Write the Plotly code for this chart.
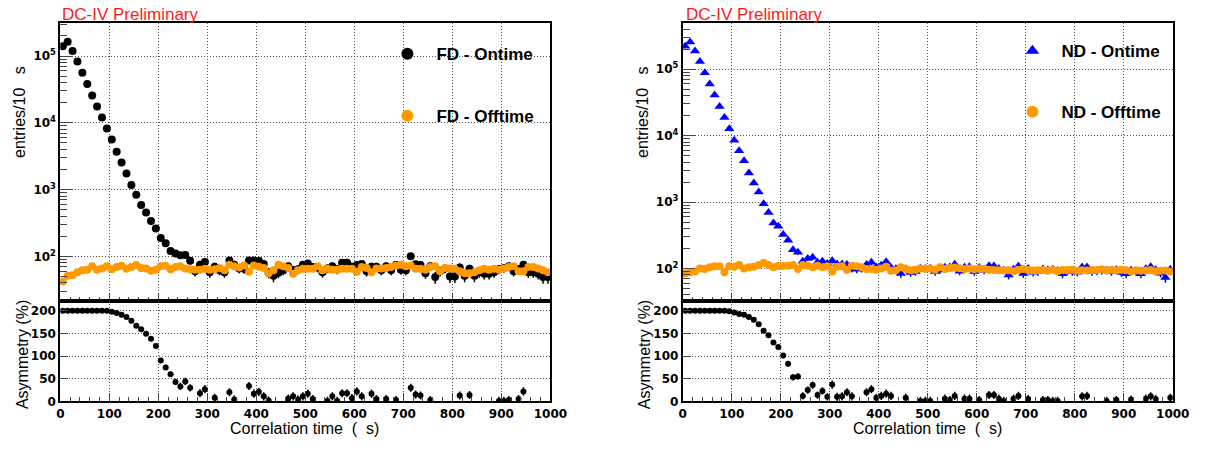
import plotly.graph_objects as go

# ---------------- data ----------------
bins = list(range(5, 1000, 10))  # bin centres, 10 us bins

fd_on = [
    140000, 163000, 119000, 83000, 56000, 38000, 25700, 17600, 12000, 8200,
    5600, 3700, 2540, 1745, 1173, 835, 589, 453, 337, 262,
    189, 157, 120, 110, 104, 105, 86, 60, 75, 82,
    58, 70, 62, 58, 87, 75, 66, 65, 87, 87,
    86, 77, 57, 51, 57, 62, 71, 62, 64, 75,
    78, 69, 68, 58, 66, 71, 64, 80, 80, 70,
    74, 77, 60, 70, 70, 62, 71, 62, 75, 63,
    62, 100, 76, 74, 56, 71, 49, 60, 66, 50,
    50, 68, 51, 65, 51, 58, 55, 55, 58, 64,
    67, 71, 60, 64, 75, 58, 58, 55, 49, 49,
]
fd_on_err = [
    0, 0, 0, 0, 0, 0, 0, 0, 0, 0,
    0, 0, 0, 0, 0, 0, 0, 0, 0, 10,
    10, 10, 10, 10, 10, 10, 10, 10, 10, 10,
    10, 10, 10, 10, 10, 10, 10, 10, 10, 10,
    10, 10, 10, 10, 10, 10, 10, 10, 10, 10,
    10, 10, 10, 10, 10, 10, 10, 10, 10, 10,
    10, 10, 10, 10, 10, 10, 10, 10, 10, 10,
    10, 11, 10, 10, 10, 10, 10, 10, 10, 10,
    10, 10, 10, 10, 10, 10, 10, 10, 10, 10,
    10, 10, 10, 10, 10, 10, 10, 10, 10, 10,
]
fd_off = [
    42, 51, 52, 58, 62, 63, 71, 63, 66, 71,
    64, 69, 72, 65, 69, 74, 67, 66, 61, 63,
    71, 72, 64, 69, 71, 66, 64, 63, 63, 65,
    63, 64, 67, 62, 75, 71, 68, 73, 59, 73,
    70, 67, 56, 62, 75, 71, 67, 55, 62, 65,
    65, 65, 71, 62, 65, 63, 63, 65, 65, 65,
    59, 69, 67, 58, 66, 66, 67, 69, 73, 75,
    71, 73, 65, 65, 63, 69, 71, 60, 67, 66,
    65, 60, 56, 56, 58, 62, 65, 63, 65, 63,
    66, 69, 71, 60, 60, 69, 69, 66, 62, 58,
]
nd_on = [
    222000, 257000, 187000, 130000, 88000, 60000, 40700, 27500, 18700, 12700,
    8500, 5900, 4170, 2730, 1940, 1420, 944, 693, 482, 430,
    324, 266, 191, 175, 128, 141, 147, 124, 128, 119,
    131, 117, 117, 115, 99, 97, 99, 115, 124, 105,
    112, 126, 103, 99, 84, 99, 87, 90, 101, 100,
    101, 90, 95, 104, 105, 116, 91, 104, 106, 90,
    103, 94, 110, 109, 100, 94, 80, 97, 108, 84,
    100, 88, 90, 98, 95, 97, 92, 83, 92, 90,
    88, 105, 105, 90, 92, 93, 94, 90, 96, 87,
    83, 94, 90, 83, 99, 106, 96, 85, 73, 97,
]
nd_on_err = [
    0, 0, 0, 0, 0, 0, 0, 0, 0, 0,
    0, 0, 0, 0, 0, 0, 0, 0, 0, 0,
    0, 0, 14, 14, 12, 12, 12, 12, 12, 12,
    12, 12, 12, 12, 12, 12, 12, 12, 12, 12,
    12, 12, 12, 12, 12, 12, 12, 12, 12, 12,
    12, 12, 12, 12, 12, 12, 12, 12, 12, 12,
    12, 12, 12, 12, 12, 12, 12, 12, 12, 12,
    12, 12, 12, 12, 12, 12, 12, 12, 12, 12,
    12, 12, 12, 12, 12, 12, 12, 12, 12, 12,
    12, 12, 12, 12, 12, 12, 12, 12, 12, 12,
]
nd_off = [
    84, 88, 90, 100, 98, 104, 108, 108, 88, 108,
    106, 113, 100, 104, 106, 113, 121, 113, 104, 110,
    109, 110, 113, 98, 113, 110, 104, 110, 104, 108,
    90, 106, 108, 96, 110, 108, 104, 98, 98, 96,
    100, 106, 92, 94, 104, 98, 94, 96, 100, 99,
    100, 96, 104, 98, 102, 103, 101, 98, 100, 97,
    100, 99, 96, 95, 94, 93, 94, 91, 96, 98,
    95, 93, 94, 95, 92, 96, 91, 95, 95, 96,
    92, 94, 93, 95, 95, 97, 93, 96, 93, 96,
    94, 90, 94, 92, 93, 95, 91, 92, 93, 90,
]

# asymmetry (%) points that fall inside the plotted range
fd_asym_x = [5, 15, 25, 35, 45, 55, 65, 75, 85, 95,
             105, 115, 125, 135, 145, 155, 165, 175, 185, 195,
             205, 215, 225, 235, 245, 255, 265, 285, 295, 315,
             345, 355, 385, 395, 405, 415, 425, 465, 475, 485,
             495, 505, 515, 545, 555, 565, 575, 585, 595, 605,
             615, 635, 645, 665, 685, 715, 725, 735, 755, 815,
             835, 895, 905, 915, 935, 945]
fd_asym_y = [200, 200, 200, 200, 200, 200, 200, 200, 200, 200,
             198, 195, 191, 186, 178, 167, 159, 149, 138, 122,
             90, 75, 60, 43, 33, 44, 30, 18, 27, 8,
             20, 4, 34, 17, 21, 11, 2, 6, 11, 4,
             11, 17, 5, 1, 11, 1, 18, 18, 7, 22,
             11, 17, 5, 5, 3, 30, 15, 13, 3, 13,
             14, 1, 1, 3, 5, 22]
fd_asym_err = [0, 0, 0, 0, 0, 0, 0, 0, 0, 0,
               0, 0, 0, 0, 0, 0, 0, 0, 3, 4,
               5, 6, 6, 7, 8, 8, 8, 9, 9, 9,
               9, 9, 9, 9, 9, 9, 9, 9, 9, 9,
               9, 9, 9, 9, 9, 9, 9, 9, 9, 9,
               9, 9, 9, 9, 9, 9, 9, 9, 9, 9,
               9, 9, 9, 9, 9, 9]
nd_asym_x = [5, 15, 25, 35, 45, 55, 65, 75, 85, 95,
             105, 115, 125, 135, 145, 155, 165, 175, 185, 195,
             205, 215, 225, 235, 245, 255, 265, 275, 285, 295,
             305, 315, 325, 335, 345, 375, 385, 395, 405, 415,
             425, 455, 485, 495, 505, 535, 545, 555, 575, 585,
             605, 625, 635, 645, 655, 675, 685, 705, 735, 745,
             755, 765, 815, 825, 865, 885, 915, 945, 955, 965,
             995]
nd_asym_y = [200, 200, 200, 200, 200, 200, 200, 200, 200, 199,
             196, 193, 191, 186, 180, 170, 156, 146, 130, 120,
             101, 83, 53, 55, 12, 25, 36, 14, 23, 10,
             37, 10, 11, 20, 11, 20, 27, 8, 12, 17,
             12, 8, 1, 1, 1, 6, 3, 12, 6, 6,
             3, 14, 14, 6, 1, 6, 12, 5, 3, 3,
             1, 1, 11, 12, 1, 3, 4, 6, 11, 5,
             8]
nd_asym_err = [0, 0, 0, 0, 0, 0, 0, 0, 0, 0,
               0, 0, 0, 0, 0, 0, 0, 0, 3, 4,
               5, 6, 7, 7, 8, 8, 8, 8, 8, 8,
               9, 9, 9, 9, 9, 9, 9, 9, 9, 9,
               9, 9, 9, 9, 9, 9, 9, 9, 9, 9,
               9, 9, 9, 9, 9, 9, 9, 9, 9, 9,
               9, 9, 9, 9, 9, 9, 9, 9, 9, 9,
               9]

log_ticks = [100, 1000, 10000, 100000]
log_labels = ["10<sup>2</sup>", "10<sup>3</sup>", "10<sup>4</sup>", "10<sup>5</sup>"]
log_minor = [m * 10 ** e for e in range(1, 6) for m in range(2, 10)]

W, H = 1216, 450
ORANGE = "#ff9900"
TICKFONT = dict(family="DejaVu Sans", size=12, color="black", weight="bold")
GRID = dict(showgrid=True, gridcolor="#555555", griddash="1px,2px", gridwidth=1)
LINE = dict(showline=True, linecolor="black", linewidth=2, mirror=True, zeroline=False)

fig = go.Figure()

# ---- left (FD) ----
fig.add_trace(go.Scatter(x=bins, y=fd_on, mode="markers", name="FD - Ontime",
                         marker=dict(color="black", size=8),
                         error_y=dict(type="data", array=fd_on_err, color="black", thickness=1.5, width=0),
                         xaxis="x", yaxis="y", legend="legend"))
fig.add_trace(go.Scatter(x=bins, y=fd_off, mode="markers", name="FD - Offtime",
                         marker=dict(color=ORANGE, size=8),
                         xaxis="x", yaxis="y", legend="legend2"))
fig.add_trace(go.Scatter(x=fd_asym_x, y=fd_asym_y, mode="markers", showlegend=False,
                         marker=dict(color="black", size=6),
                         error_y=dict(type="data", array=fd_asym_err, color="black", thickness=1.5, width=0),
                         xaxis="x2", yaxis="y2"))
# ---- right (ND) ----
fig.add_trace(go.Scatter(x=bins, y=nd_on, mode="markers", name="ND - Ontime",
                         marker=dict(color="#0000ff", size=9, symbol="triangle-up"),
                         error_y=dict(type="data", array=nd_on_err, color="#0000ff", thickness=1.5, width=0),
                         xaxis="x3", yaxis="y3", legend="legend3"))
fig.add_trace(go.Scatter(x=bins, y=nd_off, mode="markers", name="ND - Offtime",
                         marker=dict(color=ORANGE, size=8),
                         xaxis="x3", yaxis="y3", legend="legend4"))
fig.add_trace(go.Scatter(x=nd_asym_x, y=nd_asym_y, mode="markers", showlegend=False,
                         marker=dict(color="black", size=6),
                         error_y=dict(type="data", array=nd_asym_err, color="black", thickness=1.5, width=0),
                         xaxis="x4", yaxis="y4"))

def px_x(p):
    return p / W

def px_y(p):
    return 1 - p / H

top_dom = [px_y(305.5), px_y(23)]
bot_dom = [px_y(407.7), px_y(306)]
left_dom = [px_x(57.3), px_x(556)]
right_dom = [px_x(690.7), px_x(1189.3)]

xcommon = dict(range=[0, 1000], dtick=100, ticks="inside", ticklen=8, tickwidth=1,
               minor=dict(dtick=20, ticks="inside", ticklen=4, tickwidth=1, showgrid=False),
               tickfont=TICKFONT, **GRID, **LINE)
ylog = dict(type="log", tickmode="array", tickvals=log_ticks, ticktext=log_labels,
            ticks="inside", ticklen=12, tickwidth=1,
            minor=dict(tickmode="array", tickvals=log_minor, ticks="inside", ticklen=7, tickwidth=1, showgrid=False),
            tickfont=TICKFONT, **GRID, **LINE)
yasym = dict(range=[0, 221], tickvals=[0, 50, 100, 150, 200], ticks="inside", ticklen=8, tickwidth=1,
             tickfont=TICKFONT, **GRID, **LINE)

fig.update_layout(
    width=W, height=H, autosize=False,
    margin=dict(l=0, r=0, t=0, b=0),
    paper_bgcolor="white", plot_bgcolor="white",
    font=dict(family="Liberation Sans", color="black"),
    xaxis=dict(domain=left_dom, anchor="y", showticklabels=False, **xcommon),
    yaxis=dict(domain=top_dom, anchor="x", range=[1.335, 5.50], **ylog),
    xaxis2=dict(domain=left_dom, anchor="y2", **xcommon),
    yaxis2=dict(domain=bot_dom, anchor="x2", **yasym),
    xaxis3=dict(domain=right_dom, anchor="y3", showticklabels=False, **xcommon),
    yaxis3=dict(domain=top_dom, anchor="x3", range=[1.514, 5.70], **ylog),
    xaxis4=dict(domain=right_dom, anchor="y4", **xcommon),
    yaxis4=dict(domain=bot_dom, anchor="x4", **yasym),
)

legfont = dict(family="Liberation Sans", size=17, color="black", weight="bold")
def leg(xp, yp):
    return dict(x=px_x(xp), y=px_y(yp), xanchor="left", yanchor="middle",
                bgcolor="rgba(0,0,0,0)", borderwidth=0, font=legfont,
                itemsizing="constant", itemwidth=48)
fig.update_layout(legend=leg(381, 55), legend2=leg(381, 118),
                  legend3=leg(1017, 52), legend4=leg(1017, 114))

ann = []
title_font = dict(family="Liberation Sans", size=16, color="black")
for xl, xc in [(57, 306), (691.7, 940)]:
    ann.append(dict(text="DC-IV Preliminary", x=px_x(xl), y=px_y(14.5), xref="paper", yref="paper",
                    xanchor="left", yanchor="middle", showarrow=False,
                    font=dict(family="Liberation Sans", size=17, color="#ff1a1a")))
    ann.append(dict(text="Correlation time\u00a0\u00a0(\u00a0\u00a0s)", x=px_x(xc), y=px_y(435),
                    xref="paper", yref="paper", xanchor="center", yanchor="middle",
                    showarrow=False, font=title_font))
for xp in [16, 649]:
    ann.append(dict(text="entries/10\u00a0\u00a0\u00a0s", x=px_x(xp), y=px_y(114), xref="paper", yref="paper",
                    xanchor="center", yanchor="middle", textangle=-90, showarrow=False, font=title_font))
    ann.append(dict(text="Asymmetry (%)", x=px_x(xp + 3), y=px_y(360), xref="paper", yref="paper",
                    xanchor="center", yanchor="middle", textangle=-90, showarrow=False, font=title_font))
fig.update_layout(annotations=ann)

fig.write_html("out.html")
